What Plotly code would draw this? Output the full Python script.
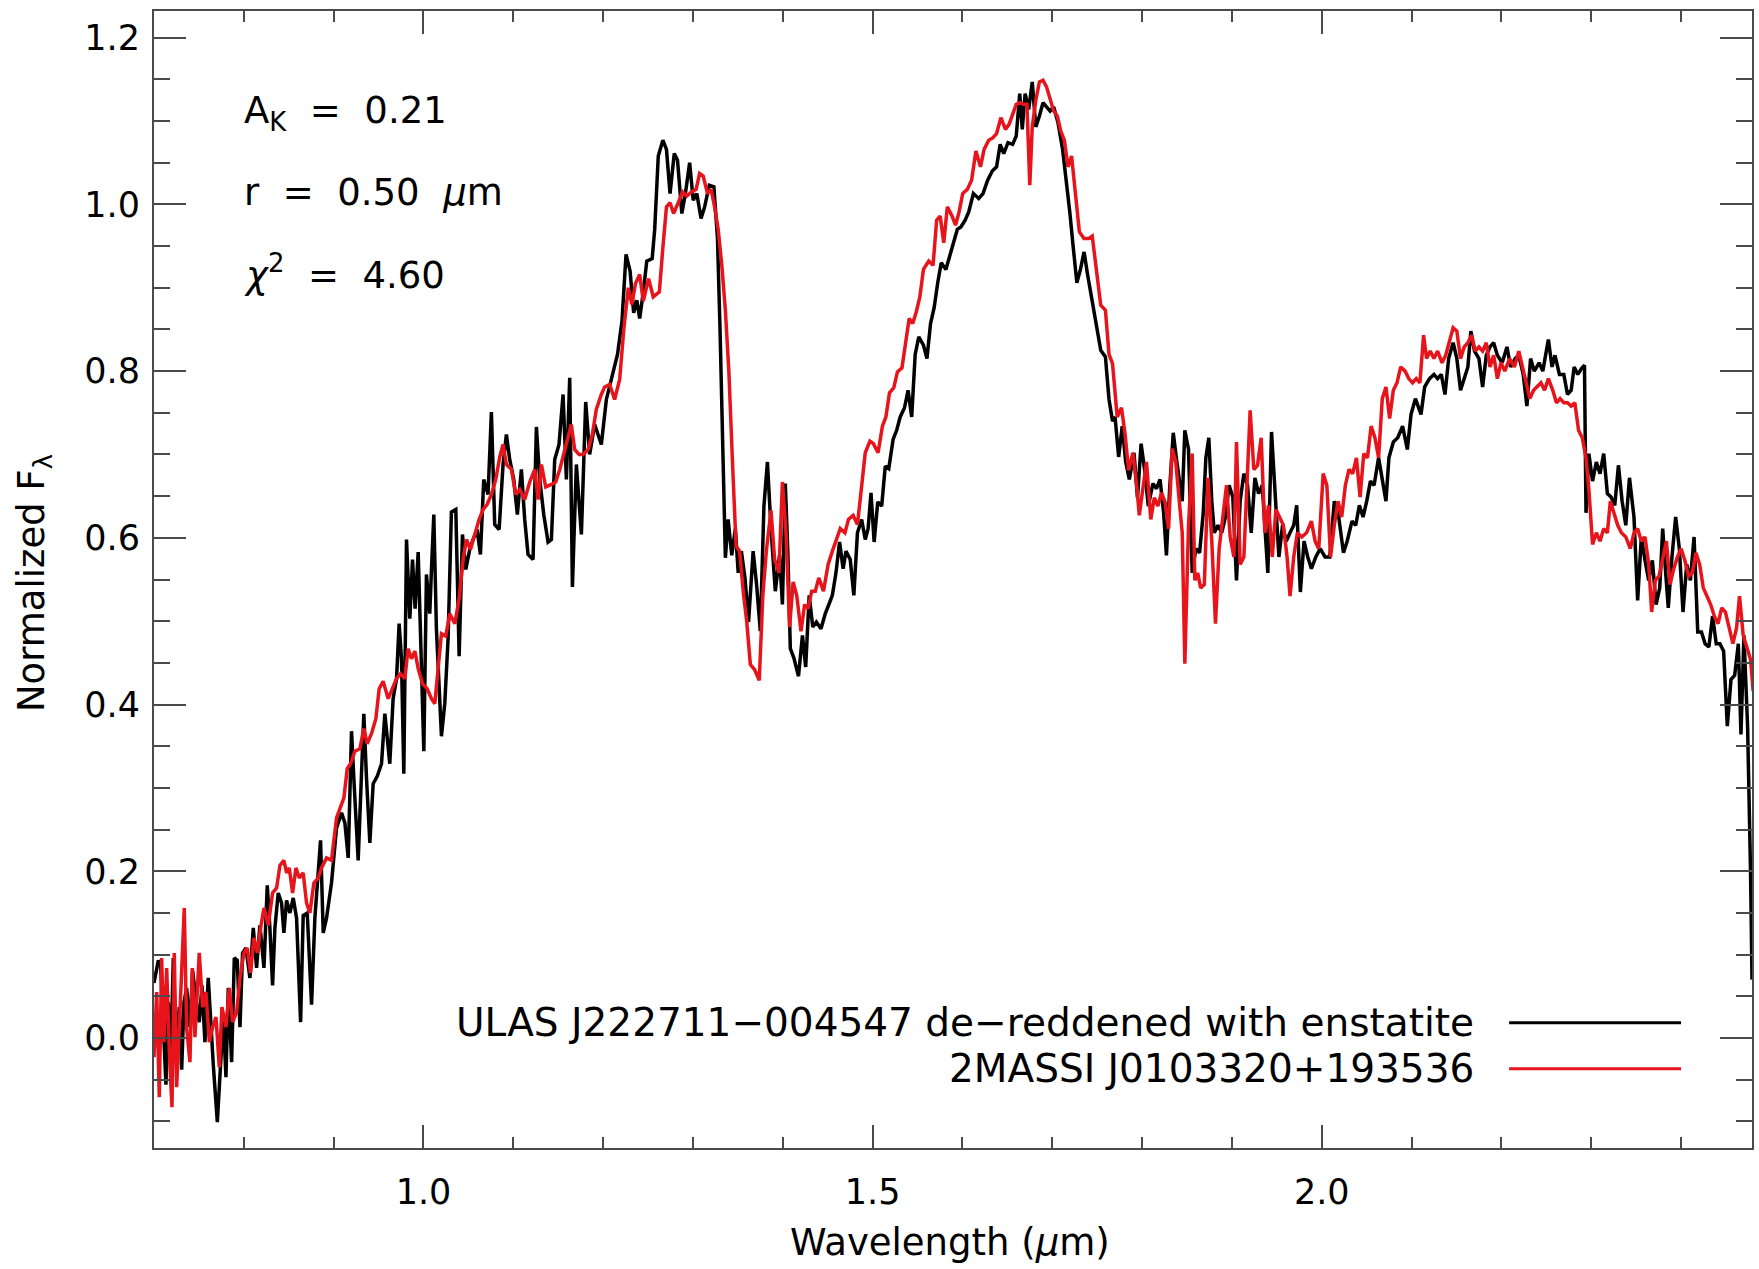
import plotly.graph_objects as go

# ULAS J222711-004547, de-reddened with enstatite (wavelength in micron, normalized flux)
ulas_wavelength = [
    0.7000, 0.7048, 0.7074, 0.7104, 0.7133, 0.7159, 0.7185, 0.7215, 0.7245, 0.7282,
    0.7308, 0.7334, 0.7363, 0.7400, 0.7430, 0.7464, 0.7504, 0.7534, 0.7567, 0.7604,
    0.7630, 0.7660, 0.7705, 0.7734, 0.7771, 0.7801, 0.7827, 0.7864, 0.7894, 0.7927,
    0.7957, 0.7986, 0.8023, 0.8068, 0.8105, 0.8142, 0.8179, 0.8224, 0.8261, 0.8290,
    0.8320, 0.8346, 0.8383, 0.8420, 0.8446, 0.8476, 0.8513, 0.8550, 0.8587, 0.8632,
    0.8661, 0.8706, 0.8754, 0.8791, 0.8828, 0.8854, 0.8884, 0.8921, 0.8976, 0.9032,
    0.9088, 0.9125, 0.9162, 0.9199, 0.9225, 0.9273, 0.9310, 0.9336, 0.9366, 0.9403,
    0.9440, 0.9485, 0.9533, 0.9570, 0.9625, 0.9662, 0.9700, 0.9729, 0.9755, 0.9781,
    0.9811, 0.9848, 0.9878, 0.9907, 0.9941, 0.9978, 1.0004, 1.0033, 1.0070, 1.0089,
    1.0115, 1.0144, 1.0170, 1.0200, 1.0237, 1.0274, 1.0311, 1.0360, 1.0397, 1.0434,
    1.0471, 1.0515, 1.0552, 1.0597, 1.0634, 1.0671, 1.0719, 1.0756, 1.0793, 1.0842,
    1.0886, 1.0923, 1.0960, 1.1005, 1.1045, 1.1090, 1.1127, 1.1164, 1.1220, 1.1257,
    1.1294, 1.1339, 1.1387, 1.1424, 1.1461, 1.1509, 1.1554, 1.1591, 1.1628, 1.1658,
    1.1702, 1.1758, 1.1806, 1.1850, 1.1906, 1.1980, 1.2036, 1.2110,
    1.2160, 1.2210, 1.2255, 1.2300, 1.2340, 1.2375,
    1.2407, 1.2447, 1.2486, 1.2546, 1.2574, 1.2614, 1.2665, 1.2705, 1.2745, 1.2792,
    1.2828, 1.2876, 1.2916, 1.2963, 1.3003, 1.3043, 1.3090, 1.3130, 1.3182, 1.3233,
    1.3273, 1.3301, 1.3329, 1.3361, 1.3392, 1.3432, 1.3472, 1.3504, 1.3539, 1.3579,
    1.3619, 1.3670, 1.3710, 1.3750, 1.3790, 1.3829, 1.3869, 1.3917, 1.3964, 1.3996,
    1.4028, 1.4056, 1.4084, 1.4123, 1.4175, 1.4219, 1.4255, 1.4294, 1.4334, 1.4374,
    1.4425, 1.4473, 1.4513, 1.4552, 1.4592, 1.4632, 1.4672, 1.4703, 1.4751, 1.4791,
    1.4831, 1.4878, 1.4918, 1.4950, 1.4982, 1.5017, 1.5057, 1.5101, 1.5141, 1.5180,
    1.5228, 1.5268, 1.5307, 1.5355, 1.5395, 1.5435, 1.5474, 1.5514, 1.5566, 1.5605,
    1.5645, 1.5685, 1.5725, 1.5764, 1.5816, 1.5856, 1.5895, 1.5943, 1.5983, 1.6030,
    1.6070, 1.6122, 1.6181, 1.6229, 1.6281, 1.6332, 1.6380, 1.6420, 1.6460, 1.6507,
    1.6559, 1.6599, 1.6638, 1.6666, 1.6698, 1.6738, 1.6777, 1.6817, 1.6857, 1.6897,
    1.6936, 1.6976, 1.7016, 1.7064, 1.7115, 1.7155, 1.7195, 1.7234, 1.7274, 1.7314,
    1.7354, 1.7393, 1.7445, 1.7493, 1.7540, 1.7592, 1.7632, 1.7671, 1.7699, 1.7739,
    1.7779, 1.7818, 1.7858, 1.7910, 1.7949, 1.7989, 1.8029, 1.8069, 1.8120, 1.8160,
    1.8200, 1.8240, 1.8271, 1.8307, 1.8347, 1.8387,
    1.8447, 1.8476, 1.8517, 1.8558, 1.8599, 1.8640, 1.8681, 1.8710, 1.8743, 1.8776,
    1.8804, 1.8845, 1.8886, 1.8928, 1.8969, 1.9010, 1.9051, 1.9092, 1.9133, 1.9174,
    1.9215, 1.9256, 1.9297, 1.9338, 1.9400, 1.9441, 1.9482, 1.9523, 1.9564, 1.9605,
    1.9647, 1.9688, 1.9721, 1.9762, 1.9803, 1.9844, 1.9885, 1.9934, 1.9983, 2.0037,
    2.0090, 2.0140, 2.0189, 2.0242, 2.0283, 2.0337, 2.0378, 2.0419, 2.0460, 2.0501,
    2.0542, 2.0583, 2.0633, 2.0674, 2.0715, 2.0748, 2.0797, 2.0846, 2.0900, 2.0953,
    2.0994, 2.1043, 2.1105, 2.1146, 2.1200, 2.1249, 2.1290, 2.1331, 2.1372, 2.1413,
    2.1463, 2.1504, 2.1545, 2.1586, 2.1627, 2.1660, 2.1701, 2.1750, 2.1791, 2.1832,
    2.1873, 2.1914, 2.1955, 2.2009, 2.2062, 2.2103, 2.2153, 2.2194, 2.2243, 2.2284,
    2.2325, 2.2366, 2.2420, 2.2461, 2.2523, 2.2564, 2.2597, 2.2646, 2.2695, 2.2736,
    2.2777, 2.2810, 2.2851, 2.2892, 2.2925, 2.2942, 2.2974, 2.3015, 2.3057, 2.3098,
    2.3139, 2.3180, 2.3221, 2.3262, 2.3303, 2.3344, 2.3385, 2.3426, 2.3476, 2.3517,
    2.3558, 2.3599, 2.3640, 2.3681, 2.3722, 2.3763, 2.3796, 2.3829, 2.3858, 2.3899,
    2.3940, 2.3981, 2.4022, 2.4063, 2.4104, 2.4145, 2.4186, 2.4227, 2.4268, 2.4310,
    2.4351, 2.4392, 2.4433, 2.4474, 2.4515, 2.4556, 2.4597, 2.4638, 2.4667, 2.4700,
    2.4741, 2.4774, 2.4790,
]
ulas_flux = [
    0.066, 0.093, 0.087, 0.013, -0.056, 0.043, -0.029, 0.096, -0.011, 0.037,
    -0.038, 0.043, 0.060, 0.013, 0.081, 0.049, 0.019, 0.063, -0.005, 0.072,
    0.019, -0.032, -0.101, -0.041, 0.025, -0.047, 0.060, -0.029, 0.096, 0.093,
    0.013, 0.102, 0.108, 0.072, 0.132, 0.084, 0.135, 0.084, 0.183, 0.132,
    0.063, 0.132, 0.174, 0.162, 0.126, 0.165, 0.150, 0.168, 0.144, 0.019,
    0.147, 0.150, 0.040, 0.144, 0.192, 0.237, 0.126, 0.144, 0.186, 0.252,
    0.270, 0.258, 0.216, 0.368, 0.311, 0.213, 0.317, 0.389, 0.311, 0.234,
    0.305, 0.314, 0.329, 0.389, 0.329, 0.407, 0.431, 0.497, 0.455, 0.317,
    0.598, 0.503, 0.574, 0.515, 0.583, 0.461, 0.344, 0.556, 0.509, 0.562,
    0.628, 0.491, 0.425, 0.362, 0.401, 0.479, 0.631, 0.634, 0.458, 0.604,
    0.562, 0.586, 0.598, 0.610, 0.580, 0.670, 0.652, 0.751, 0.616, 0.610,
    0.688, 0.724, 0.694, 0.670, 0.628, 0.682, 0.622, 0.580, 0.574, 0.733,
    0.670, 0.628, 0.595, 0.598, 0.694, 0.712, 0.772, 0.670, 0.792, 0.541,
    0.688, 0.604, 0.763, 0.700, 0.736, 0.712, 0.766, 0.796,
    0.820, 0.860, 0.940, 0.920, 0.870, 0.885,
    0.863, 0.895, 0.932, 0.935, 0.970, 1.058, 1.077, 1.066, 1.013, 1.061,
    1.053, 0.989, 1.013, 1.050, 1.005, 1.013, 0.983, 0.997, 1.023, 1.021,
    0.959, 0.852, 0.718, 0.576, 0.622, 0.579, 0.611, 0.558, 0.584, 0.552,
    0.499, 0.584, 0.542, 0.488, 0.638, 0.691, 0.611, 0.536, 0.579, 0.520,
    0.665, 0.584, 0.467, 0.456, 0.434, 0.483, 0.445, 0.531, 0.493, 0.499,
    0.491, 0.509, 0.520, 0.531, 0.558, 0.595, 0.563, 0.584, 0.574, 0.531,
    0.606, 0.622, 0.598, 0.611, 0.654, 0.595, 0.643, 0.638, 0.686, 0.683,
    0.718, 0.729, 0.745, 0.756, 0.777, 0.745, 0.820, 0.841, 0.831, 0.815,
    0.857, 0.876, 0.906, 0.930, 0.922, 0.938, 0.954, 0.970, 0.973, 0.981,
    0.991, 1.013, 1.007, 1.013, 1.029, 1.040, 1.045, 1.072, 1.061, 1.074,
    1.072, 1.082, 1.133, 1.090, 1.133, 1.114, 1.147, 1.093, 1.106, 1.122,
    1.117, 1.112, 1.117, 1.098, 1.066, 1.031, 0.991, 0.948, 0.906, 0.922,
    0.943, 0.916, 0.884, 0.852, 0.825, 0.817, 0.766, 0.740, 0.745, 0.697,
    0.734, 0.691, 0.670, 0.702, 0.648, 0.713, 0.681, 0.638, 0.665, 0.659,
    0.670, 0.630, 0.579, 0.659, 0.726, 0.691,
    0.644, 0.729, 0.706, 0.558, 0.587, 0.582, 0.630, 0.696, 0.720, 0.644,
    0.606, 0.615, 0.606, 0.625, 0.663, 0.649, 0.549, 0.644, 0.677, 0.663,
    0.606, 0.672, 0.653, 0.663, 0.558, 0.727, 0.653, 0.577, 0.615, 0.596,
    0.606, 0.615, 0.639, 0.535, 0.596, 0.577, 0.563, 0.577, 0.587, 0.577,
    0.577, 0.644, 0.625, 0.582, 0.596, 0.620, 0.615, 0.639, 0.625, 0.644,
    0.668, 0.663, 0.696, 0.672, 0.644, 0.696, 0.715, 0.720, 0.734, 0.706,
    0.748, 0.767, 0.748, 0.781, 0.791, 0.796, 0.791, 0.796, 0.772, 0.815,
    0.834, 0.815, 0.777, 0.791, 0.805, 0.848, 0.824, 0.815, 0.781, 0.819,
    0.829, 0.834, 0.819, 0.810, 0.829, 0.805, 0.815, 0.819, 0.796, 0.758,
    0.815, 0.800, 0.810, 0.800, 0.838, 0.805, 0.819, 0.796, 0.796, 0.772,
    0.777, 0.805, 0.796, 0.803, 0.807, 0.630, 0.701, 0.668, 0.691, 0.677,
    0.701, 0.653, 0.649, 0.639, 0.687, 0.644, 0.615, 0.672, 0.625, 0.525,
    0.601, 0.573, 0.549, 0.573, 0.520, 0.540, 0.611, 0.558, 0.516, 0.577,
    0.625, 0.587, 0.511, 0.568, 0.549, 0.601, 0.487, 0.487, 0.473, 0.469,
    0.506, 0.473, 0.473, 0.464, 0.374, 0.430, 0.435, 0.473, 0.364, 0.483,
    0.374, 0.198, 0.070,
]

# 2MASSI J0103320+193536 comparison spectrum
ref_wavelength = [
    0.7000, 0.7030, 0.7059, 0.7085, 0.7111, 0.7141, 0.7171, 0.7200, 0.7226, 0.7252,
    0.7282, 0.7308, 0.7337, 0.7363, 0.7400, 0.7426, 0.7456, 0.7504, 0.7541, 0.7578,
    0.7616, 0.7653, 0.7690, 0.7727, 0.7756, 0.7801, 0.7838, 0.7875, 0.7920, 0.7957,
    0.8001, 0.8038, 0.8075, 0.8112, 0.8150, 0.8187, 0.8224, 0.8272, 0.8320, 0.8365,
    0.8402, 0.8446, 0.8476, 0.8506, 0.8543, 0.8580, 0.8617, 0.8661, 0.8698, 0.8735,
    0.8780, 0.8828, 0.8865, 0.8921, 0.8976, 0.9032, 0.9069, 0.9114, 0.9151, 0.9188,
    0.9236, 0.9292, 0.9336, 0.9373, 0.9421, 0.9470, 0.9507, 0.9551, 0.9607, 0.9655,
    0.9700, 0.9744, 0.9792, 0.9829, 0.9866, 0.9904, 0.9941, 0.9989, 1.0041, 1.0089,
    1.0126, 1.0163, 1.0200, 1.0248, 1.0293, 1.0349, 1.0397, 1.0441, 1.0478, 1.0523,
    1.0571, 1.0619, 1.0664, 1.0708, 1.0756, 1.0805, 1.0849, 1.0886, 1.0923, 1.0979,
    1.1027, 1.1072, 1.1127, 1.1183, 1.1239, 1.1276, 1.1313, 1.1361, 1.1424, 1.1472,
    1.1517, 1.1561, 1.1609, 1.1646, 1.1683, 1.1732, 1.1776, 1.1832, 1.1880, 1.1924,
    1.1980, 1.2017, 1.2073, 1.2128, 1.2184, 1.2230, 1.2280, 1.2320, 1.2360,
    1.2407, 1.2447, 1.2506, 1.2558, 1.2626, 1.2665, 1.2705, 1.2745, 1.2784, 1.2836,
    1.2884, 1.2931, 1.2983, 1.3035, 1.3074, 1.3114, 1.3162, 1.3202, 1.3241, 1.3281,
    1.3321, 1.3361, 1.3400, 1.3440, 1.3480, 1.3520, 1.3559, 1.3599, 1.3639, 1.3686,
    1.3738, 1.3778, 1.3817, 1.3869, 1.3909, 1.3957, 1.3996, 1.4036, 1.4076, 1.4115,
    1.4155, 1.4203, 1.4243, 1.4282, 1.4322, 1.4362, 1.4401, 1.4453, 1.4505, 1.4552,
    1.4600, 1.4640, 1.4692, 1.4731, 1.4783, 1.4831, 1.4870, 1.4918, 1.4970, 1.5009,
    1.5061, 1.5109, 1.5148, 1.5188, 1.5236, 1.5276, 1.5327, 1.5379, 1.5407, 1.5446,
    1.5486, 1.5526, 1.5566, 1.5625, 1.5673, 1.5713, 1.5752, 1.5792, 1.5832, 1.5884,
    1.5923, 1.5963, 1.6003, 1.6054, 1.6102, 1.6150, 1.6201, 1.6241, 1.6293, 1.6340,
    1.6380, 1.6428, 1.6479, 1.6519, 1.6559, 1.6599, 1.6638, 1.6678, 1.6718, 1.6750,
    1.6777, 1.6817, 1.6857, 1.6897, 1.6936, 1.6976, 1.7016, 1.7056, 1.7095, 1.7135,
    1.7175, 1.7215, 1.7254, 1.7302, 1.7354, 1.7405, 1.7445, 1.7493, 1.7540, 1.7592,
    1.7632, 1.7671, 1.7723, 1.7771, 1.7811, 1.7850, 1.7898, 1.7938, 1.7969, 1.8009,
    1.8049, 1.8097, 1.8136, 1.8176, 1.8216, 1.8256, 1.8295, 1.8335, 1.8375,
    1.8414, 1.8447, 1.8476, 1.8517, 1.8558, 1.8587, 1.8619, 1.8652, 1.8693, 1.8734,
    1.8776, 1.8817, 1.8858, 1.8899, 1.8940, 1.8981, 1.9022, 1.9051, 1.9092, 1.9133,
    1.9174, 1.9203, 1.9244, 1.9285, 1.9326, 1.9367, 1.9408, 1.9449, 1.9490, 1.9531,
    1.9573, 1.9614, 1.9647, 1.9688, 1.9729, 1.9778, 1.9831, 1.9885, 1.9926, 1.9967,
    2.0016, 2.0057, 2.0098, 2.0140, 2.0181, 2.0222, 2.0263, 2.0304, 2.0345, 2.0386,
    2.0427, 2.0468, 2.0509, 2.0550, 2.0592, 2.0633, 2.0674, 2.0715, 2.0756, 2.0797,
    2.0838, 2.0879, 2.0928, 2.0969, 2.1011, 2.1052, 2.1093, 2.1134, 2.1167, 2.1208,
    2.1249, 2.1290, 2.1339, 2.1380, 2.1421, 2.1463, 2.1504, 2.1545, 2.1586, 2.1627,
    2.1668, 2.1709, 2.1750, 2.1791, 2.1832, 2.1873, 2.1914, 2.1955, 2.1996, 2.2038,
    2.2091, 2.2145, 2.2194, 2.2235, 2.2276, 2.2317, 2.2358, 2.2399, 2.2440, 2.2481,
    2.2523, 2.2572, 2.2613, 2.2654, 2.2695, 2.2736, 2.2777, 2.2818, 2.2859, 2.2900,
    2.2942, 2.2974, 2.3015, 2.3057, 2.3098, 2.3139, 2.3180, 2.3213, 2.3254, 2.3295,
    2.3336, 2.3385, 2.3435, 2.3476, 2.3517, 2.3558, 2.3599, 2.3640, 2.3673, 2.3714,
    2.3755, 2.3796, 2.3837, 2.3878, 2.3919, 2.3960, 2.4001, 2.4042, 2.4084, 2.4125,
    2.4166, 2.4207, 2.4248, 2.4289, 2.4330, 2.4371, 2.4412, 2.4453, 2.4494, 2.4536,
    2.4577, 2.4618, 2.4651, 2.4692, 2.4733, 2.4774, 2.4803,
]
ref_flux = [
    -0.023, 0.055, -0.071, 0.096, -0.005, 0.084, -0.017, -0.083, 0.102, -0.059,
    0.013, 0.072, 0.156, 0.013, -0.029, 0.084, 0.001, 0.102, 0.037, 0.055,
    -0.005, 0.013, 0.025, -0.035, 0.037, 0.013, 0.060, 0.019, 0.031, 0.072,
    0.102, 0.108, 0.078, 0.120, 0.102, 0.132, 0.156, 0.135, 0.174, 0.180,
    0.207, 0.213, 0.198, 0.204, 0.174, 0.204, 0.192, 0.198, 0.162, 0.150,
    0.186, 0.192, 0.204, 0.216, 0.213, 0.264, 0.276, 0.288, 0.323, 0.329,
    0.344, 0.347, 0.371, 0.353, 0.365, 0.383, 0.419, 0.428, 0.407, 0.419,
    0.431, 0.437, 0.431, 0.467, 0.455, 0.464, 0.443, 0.425, 0.419, 0.407,
    0.401, 0.443, 0.485, 0.482, 0.509, 0.497, 0.527, 0.574, 0.598, 0.586,
    0.604, 0.622, 0.634, 0.640, 0.652, 0.670, 0.697, 0.712, 0.688, 0.682,
    0.652, 0.658, 0.646, 0.667, 0.682, 0.646, 0.688, 0.661, 0.664, 0.667,
    0.682, 0.700, 0.718, 0.736, 0.706, 0.700, 0.700, 0.706, 0.724, 0.754,
    0.772, 0.781, 0.784, 0.766, 0.790, 0.850, 0.900, 0.880, 0.905,
    0.916, 0.884, 0.911, 0.889, 0.895, 0.948, 0.997, 1.002, 0.989, 1.002,
    1.015, 1.010, 1.015, 1.018, 1.037, 1.034, 1.013, 1.018, 0.997, 0.970,
    0.927, 0.873, 0.799, 0.691, 0.590, 0.584, 0.536, 0.499, 0.448, 0.442,
    0.429, 0.531, 0.584, 0.633, 0.574, 0.558, 0.667, 0.606, 0.493, 0.547,
    0.531, 0.488, 0.520, 0.515, 0.536, 0.536, 0.552, 0.536, 0.568, 0.584,
    0.600, 0.611, 0.606, 0.622, 0.627, 0.616, 0.654, 0.702, 0.716, 0.713,
    0.702, 0.734, 0.745, 0.774, 0.780, 0.799, 0.804, 0.841, 0.863, 0.857,
    0.871, 0.889, 0.922, 0.932, 0.927, 0.981, 0.986, 0.954, 0.997, 0.986,
    0.975, 0.991, 1.013, 1.018, 1.029, 1.064, 1.045, 1.066, 1.077, 1.080,
    1.085, 1.104, 1.090, 1.096, 1.109, 1.120, 1.122, 1.120, 1.120, 1.023,
    1.093, 1.125, 1.147, 1.149, 1.141, 1.128, 1.112, 1.106, 1.088, 1.077,
    1.045, 1.058, 1.013, 0.967, 0.959, 0.959, 0.962, 0.916, 0.879, 0.873,
    0.820, 0.809, 0.745, 0.756, 0.724, 0.681, 0.702, 0.665, 0.627, 0.659,
    0.691, 0.622, 0.648, 0.638, 0.654, 0.643, 0.611, 0.707, 0.691,
    0.644, 0.606, 0.449, 0.615, 0.701, 0.549, 0.558, 0.540, 0.544, 0.672,
    0.596, 0.497, 0.587, 0.630, 0.663, 0.601, 0.577, 0.715, 0.568, 0.577,
    0.672, 0.753, 0.682, 0.687, 0.720, 0.606, 0.639, 0.577, 0.634, 0.625,
    0.615, 0.577, 0.530, 0.577, 0.606, 0.601, 0.606, 0.620, 0.596, 0.587,
    0.677, 0.663, 0.577, 0.615, 0.644, 0.625, 0.663, 0.682, 0.677, 0.696,
    0.649, 0.701, 0.696, 0.734, 0.720, 0.696, 0.767, 0.781, 0.743, 0.777,
    0.786, 0.805, 0.800, 0.791, 0.786, 0.791, 0.786, 0.843, 0.815, 0.824,
    0.815, 0.824, 0.810, 0.819, 0.834, 0.852, 0.848, 0.815, 0.829, 0.834,
    0.843, 0.824, 0.829, 0.824, 0.834, 0.805, 0.819, 0.791, 0.810, 0.800,
    0.815, 0.805, 0.824, 0.805, 0.786, 0.767, 0.777, 0.781, 0.786, 0.777,
    0.791, 0.777, 0.762, 0.767, 0.762, 0.762, 0.758, 0.762, 0.729, 0.720,
    0.696, 0.658, 0.592, 0.606, 0.596, 0.611, 0.606, 0.644, 0.630, 0.615,
    0.606, 0.601, 0.587, 0.606, 0.611, 0.596, 0.601, 0.568, 0.511, 0.549,
    0.554, 0.577, 0.596, 0.544, 0.563, 0.577, 0.587, 0.573, 0.554, 0.558,
    0.582, 0.568, 0.540, 0.530, 0.520, 0.506, 0.497, 0.516, 0.511, 0.492,
    0.473, 0.492, 0.530, 0.483, 0.469, 0.454, 0.416,
]

series_names = [
    "ULAS J222711\u2212004547 de\u2212reddened with enstatite",
    "2MASSI J0103320+193536",
]
series_colors = ["#000000", "#e8141c"]

fit_labels = [
    "A<sub>K</sub>\u00a0\u00a0=\u00a0\u00a00.21",
    "r\u00a0\u00a0=\u00a0\u00a00.50\u00a0\u00a0<i>\u03bc</i>m",
    "<i>\u03c7</i><sup>2</sup>\u00a0\u00a0=\u00a0\u00a04.60",
]

FONT = "DejaVu Sans"
AXIS_GREY = "#4a4a4a"

fig = go.Figure()
fig.add_trace(go.Scatter(x=ulas_wavelength, y=ulas_flux, mode="lines",
                         line=dict(color=series_colors[0], width=3.5),
                         name=series_names[0], showlegend=False))
fig.add_trace(go.Scatter(x=ref_wavelength, y=ref_flux, mode="lines",
                         line=dict(color=series_colors[1], width=3.5),
                         name=series_names[1], showlegend=False))

axis_common = dict(
    showgrid=False, zeroline=False, showline=True, linecolor=AXIS_GREY,
    linewidth=2, mirror="ticks", ticks="inside", tickwidth=2,
    tickcolor=AXIS_GREY, tickformat=".1f",
    tickfont=dict(family=FONT, size=35, color="black"),
)

fig.update_layout(
    width=1759, height=1269,
    margin=dict(l=154, r=5, t=11, b=121),
    paper_bgcolor="white", plot_bgcolor="white",
    font=dict(family=FONT, color="black"),
    xaxis=dict(range=[0.7, 2.479], tick0=0.5, dtick=0.5, ticklen=23,
               ticklabelstandoff=12,
               minor=dict(tick0=0.0, dtick=0.1, ticklen=11, tickwidth=2,
                          tickcolor=AXIS_GREY, ticks="inside", showgrid=False),
               **axis_common),
    yaxis=dict(range=[-0.132, 1.232], tick0=0.0, dtick=0.2, ticklen=32,
               ticklabelstandoff=5,
               minor=dict(tick0=0.0, dtick=0.05, ticklen=16, tickwidth=2,
                          tickcolor=AXIS_GREY, ticks="inside", showgrid=False),
               **axis_common),
)

# fit parameters in the upper-left corner
for label, ypos in zip(fit_labels, [0.9107, 0.8402, 0.7700]):
    fig.add_annotation(text=label, xref="paper", yref="paper", x=0.055, y=ypos,
                       xanchor="left", yanchor="middle", showarrow=False,
                       font=dict(family=FONT, size=37, color="black"))

# axis titles
fig.add_annotation(text="Wavelength (<i>\u03bc</i>m)", xref="paper", yref="paper",
                   x=0.498, y=-0.0832, xanchor="center", yanchor="middle",
                   showarrow=False, font=dict(family=FONT, size=37, color="black"))
fig.add_annotation(text="Normalized F<sub>\u03bb</sub>", xref="paper", yref="paper",
                   x=-0.075, y=0.497, xanchor="center", yanchor="middle",
                   textangle=-90, showarrow=False,
                   font=dict(family=FONT, size=37, color="black"))

# legend: label on the left, line sample on the right
for name, color, ypos in zip(series_names, series_colors, [0.1101, 0.0697]):
    fig.add_annotation(text=name, xref="paper", yref="paper", x=0.8275, y=ypos,
                       xanchor="right", yanchor="middle", showarrow=False,
                       font=dict(family=FONT, size=39, color="black"))
    fig.add_shape(type="line", xref="paper", yref="paper", x0=0.848, x1=0.9556,
                  y0=ypos, y1=ypos, line=dict(color=color, width=3))

fig.write_html("out.html")
